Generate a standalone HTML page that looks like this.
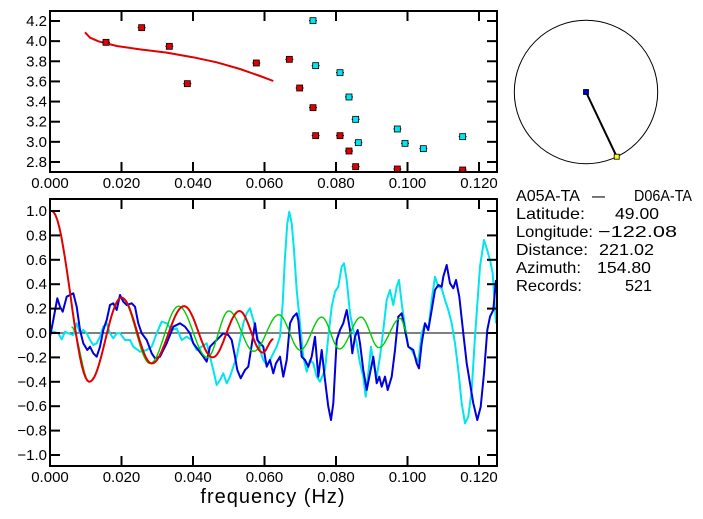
<!DOCTYPE html>
<html><head><meta charset="utf-8"><style>
html,body{margin:0;padding:0;background:#fff;}
svg{display:block;}
text{font-family:"Liberation Sans",sans-serif;fill:#000;}
</style></head><body>
<svg id="s" width="703" height="519" viewBox="0 0 703 519" xmlns="http://www.w3.org/2000/svg">
<rect x="0" y="0" width="703" height="519" fill="#fff"/>
<g id="gtop"></g>
<g id="gbot"></g>
<circle cx="586" cy="92" r="71.7" fill="none" stroke="#000" stroke-width="1"/>
<line x1="586" y1="92" x2="616.7" y2="156.7" stroke="#000" stroke-width="2"/>
<rect x="583.5" y="89.5" width="5" height="5" fill="#0000cc" stroke="#000" stroke-width="0.8"/>
<rect x="614.2" y="154.2" width="5" height="5" fill="#ffff00" stroke="#000" stroke-width="0.8"/>
<g font-size="16">
<text x="516" y="201" textLength="64" lengthAdjust="spacingAndGlyphs">A05A-TA</text>
<text x="592" y="201" textLength="13" lengthAdjust="spacingAndGlyphs">–</text>
<text x="634" y="201" textLength="58" lengthAdjust="spacingAndGlyphs">D06A-TA</text>
<text x="516" y="219" textLength="69" lengthAdjust="spacingAndGlyphs">Latitude:</text><text x="615" y="219" textLength="44" lengthAdjust="spacingAndGlyphs">49.00</text>
<text x="516" y="237" textLength="77" lengthAdjust="spacingAndGlyphs">Longitude:</text><text x="598" y="237" textLength="79" lengthAdjust="spacingAndGlyphs">−122.08</text>
<text x="516" y="255" textLength="72" lengthAdjust="spacingAndGlyphs">Distance:</text><text x="599" y="255" textLength="55" lengthAdjust="spacingAndGlyphs">221.02</text>
<text x="516" y="273" textLength="65" lengthAdjust="spacingAndGlyphs">Azimuth:</text><text x="597" y="273" textLength="54" lengthAdjust="spacingAndGlyphs">154.80</text>
<text x="516" y="291" textLength="66" lengthAdjust="spacingAndGlyphs">Records:</text><text x="625" y="291" textLength="27" lengthAdjust="spacingAndGlyphs">521</text>
</g>
<text x="273" y="503" font-size="20" text-anchor="middle" letter-spacing="1">frequency (Hz)</text>
</svg>
<script>
(function(){
var NS="http://www.w3.org/2000/svg";
function el(p,n,a,t){var e=document.createElementNS(NS,n);for(var k in a)e.setAttribute(k,a[k]);if(t!==undefined)e.textContent=t;p.appendChild(e);return e;}
var L=50,R=497;
function X(f){return 50+f*3575;}
var gt=document.getElementById('gtop');
var T0=11,T1=172;
function YT(v){return 21+(4.2-v)*100.7;}
var rc=[[255,97],[270,113],[295,124],[350,138],[420,148],[500,158],[580,172],[650,187],[720,207],[780,228],[820,243]];
el(gt,'polyline',{points:rc.map(function(p){return (p[0]/3)+','+(p[1]/3);}).join(' '),fill:'none',stroke:'#e00000','stroke-width':2});
var rs=[[318,127],[425,83],[508,139],[562,251],[769,189],[868,178],[899,264],[939,323],[947,407],[1020,407],[1047,453],[1067,500],[1192,507],[1388,510]];
var cs=[[939,62],[947,197],[1020,218],[1047,291],[1067,358],[1075,428],[1192,387],[1215,430],[1270,446],[1388,410]];
function sq(p,c){var x=p[0]/3,y=p[1]/3;
 el(gt,'line',{x1:x-4,y1:y,x2:x+4,y2:y,stroke:'#000','stroke-width':1});
 el(gt,'rect',{x:x-3,y:y-3,width:6,height:6,fill:c,stroke:'#000','stroke-width':0.8});}
rs.forEach(function(p){sq(p,'#e00000');});cs.forEach(function(p){sq(p,'#00e5ee');});
el(gt,'rect',{x:0,y:T1,width:R,height:20,fill:'#fff'});
function frame(g,t,b,yt){
 el(g,'rect',{x:L,y:t,width:R-L,height:b-t,fill:'none',stroke:'#000','stroke-width':2});
 for(var i=1;i<=6;i++){var x=X(i*0.02);el(g,'line',{x1:x,y1:t,x2:x,y2:t+10,stroke:'#000','stroke-width':2});el(g,'line',{x1:x,y1:b,x2:x,y2:b-10,stroke:'#000','stroke-width':2});}
 for(var i=0;i<=6;i++){el(g,'text',{x:X(i*0.02),y:b+16,'font-size':15,'text-anchor':'middle'},(i*0.02).toFixed(3));}
 yt.forEach(function(q){el(g,'line',{x1:L,y1:q[0],x2:L+10,y2:q[0],stroke:'#000','stroke-width':2});el(g,'line',{x1:R,y1:q[0],x2:R-10,y2:q[0],stroke:'#000','stroke-width':2});
 el(g,'text',{x:47,y:q[0]+5,'font-size':15,'text-anchor':'end'},q[1]);});
}
var ytt=[];for(var i=0;i<8;i++){var v=4.2-i*0.2;ytt.push([YT(v),v.toFixed(1)]);}
frame(gt,T0,T1,ytt);
var gb=document.getElementById('gbot');
var B0=199,B1=466;
function YB(v){return 333-122*v;}
el(gb,'line',{x1:L,y1:YB(0),x2:R,y2:YB(0),stroke:'#000','stroke-width':1});
var blue=[[150,440],[160,390],[172,325],[180,350],[188,365],[200,320],[210,315],[220,310],[230,350],[240,420],[250,460],[262,480],[270,470],[280,490],[290,500],[300,470],[310,420],[320,390],[330,345],[340,340],[350,360],[360,315],[370,335],[380,345],[395,340],[405,350],[415,400],[425,430],[440,450],[455,490],[465,505],[480,500],[500,460],[520,410],[540,400],[555,410],[570,430],[580,460],[595,480],[610,500],[620,515],[630,470],[640,460],[650,450],[660,440],[670,430],[685,435],[695,450],[705,500],[712,540],[722,565],[735,540],[745,530],[755,465],[765,400],[772,450],[790,470],[800,530],[810,510],[820,550],[828,520],[840,500],[850,560],[860,510],[870,400],[880,380],[890,370],[895,390],[905,500],[915,510],[925,530],[935,500],[945,440],[955,560],[965,480],[975,570],[985,650],[993,690],[1000,640],[1010,450],[1020,420],[1030,400],[1040,360],[1050,420],[1057,490],[1065,440],[1073,420],[1080,460],[1090,540],[1100,600],[1110,550],[1120,500],[1130,580],[1138,560],[1145,590],[1155,560],[1163,600],[1175,560],[1185,480],[1195,380],[1205,370],[1215,420],[1225,470],[1240,480],[1250,520],[1257,535],[1265,460],[1275,400],[1285,420],[1295,360],[1305,300],[1315,285],[1325,290],[1330,260],[1340,225],[1350,280],[1360,295],[1368,270],[1378,320],[1390,430],[1400,520],[1410,580],[1420,640],[1432,690],[1442,650],[1452,550],[1462,420],[1470,380],[1480,360],[1488,270]];
var cyan=[[150,430],[160,425],[175,430],[185,448],[195,425],[205,430],[220,435],[230,400],[240,430],[250,420],[260,430],[270,450],[280,465],[290,460],[300,440],[310,410],[320,400],[330,430],[340,445],[350,430],[360,430],[375,450],[390,450],[400,470],[420,485],[440,480],[455,470],[470,430],[485,395],[500,400],[515,420],[530,415],[545,450],[560,440],[575,450],[590,480],[605,470],[620,460],[630,500],[640,540],[650,585],[660,570],[670,550],[680,580],[690,560],[700,530],[710,500],[720,450],[730,400],[740,370],[750,355],[760,390],[770,430],[780,480],[790,510],[800,525],[810,510],[820,490],[830,470],[840,440],[848,340],[855,200],[862,100],[868,65],[875,100],[882,180],[890,300],[900,400],[910,500],[920,545],[930,510],[940,520],[950,560],[960,575],[975,540],[985,440],[995,350],[1005,305],[1015,290],[1025,230],[1032,220],[1040,270],[1050,370],[1060,420],[1070,460],[1080,520],[1090,560],[1097,620],[1105,550],[1113,470],[1120,520],[1130,560],[1140,500],[1150,420],[1160,330],[1170,300],[1180,345],[1190,290],[1197,270],[1205,340],[1215,410],[1225,470],[1235,480],[1245,500],[1255,515],[1265,430],[1275,400],[1285,420],[1295,330],[1305,260],[1315,290],[1325,295],[1335,330],[1345,360],[1355,400],[1365,460],[1375,540],[1385,640],[1395,700],[1405,680],[1415,600],[1425,440],[1440,230],[1452,150],[1460,175],[1470,210],[1478,250],[1488,400]];
function zp(a){return a.map(function(p){return (p[0]/3).toFixed(1)+','+(190+p[1]/3).toFixed(1);}).join(' ');}
el(gb,'polyline',{points:zp(cyan),fill:'none',stroke:'#00e5ee','stroke-width':2,'stroke-linejoin':'round'});
el(gb,'polyline',{points:zp(blue),fill:'none',stroke:'#0000dd','stroke-width':2,'stroke-linejoin':'round'});
function osc(ext){var pts=[];for(var i=0;i<ext.length-1;i++){var a=ext[i],b=ext[i+1];for(var k=0;k<20;k++){var t=k/20;var s=(1-Math.cos(Math.PI*t))/2;pts.push([a[0]+(b[0]-a[0])*t,a[1]+(b[1]-a[1])*s]);}}pts.push(ext[ext.length-1]);return pts.map(function(p){return X(p[0]).toFixed(1)+','+YB(p[1]).toFixed(1);}).join(' ');}
var g=[[0.006,0.05],[0.011,-0.40],[0.020,0.29],[0.028,-0.25],[0.036,0.22],[0.044,-0.20],[0.050,0.18],[0.057,-0.15],[0.064,0.15],[0.070,-0.14],[0.076,0.13],[0.081,-0.13],[0.087,0.13],[0.092,-0.12],[0.098,0.12],[0.100,0.0]];
el(gb,'polyline',{points:osc(g),fill:'none',stroke:'#00cc00','stroke-width':1.4});
var r=[[0,1.0],[0.0005,1.0],[0.011,-0.40],[0.020,0.29],[0.0285,-0.25],[0.0375,0.22],[0.0455,-0.20],[0.053,0.18],[0.0595,-0.16],[0.0625,-0.05]];
el(gb,'polyline',{points:osc(r),fill:'none',stroke:'#e00000','stroke-width':2});
var ytb=[];for(var i=5;i>=-5;i--){var v=i*0.2;ytb.push([YB(v),(v<-0.01?'−':'')+Math.abs(v).toFixed(1)]);}
frame(gb,B0,B1,ytb);
})();
</script>
</body></html>
